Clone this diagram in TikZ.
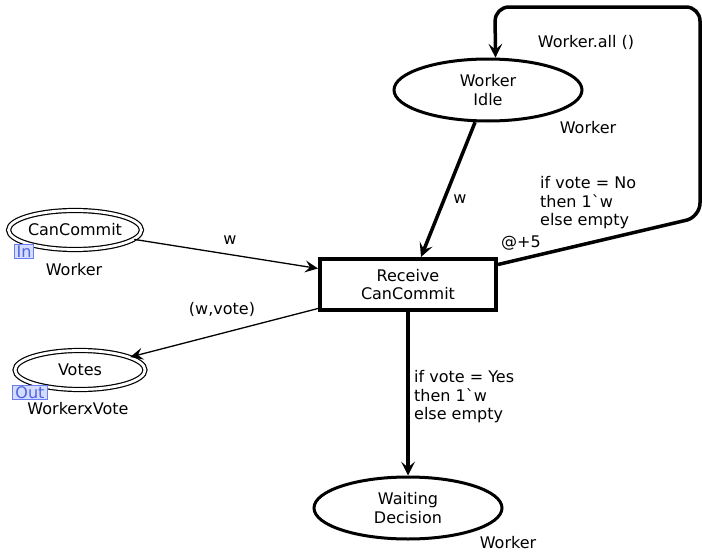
\documentclass[tikz,border=0pt]{standalone}
\usepackage{fontspec}
\newfontfamily\cpnfont{DejaVu Sans}
\usetikzlibrary{shapes.geometric,arrows.meta,calc}
\definecolor{portfill}{HTML}{D4DCFF}
\definecolor{portline}{HTML}{6A7DF0}
\definecolor{porttext}{HTML}{4F63E0}

\begin{document}
\begin{tikzpicture}[x=1pt,y=-1pt,
  every node/.style={font=\cpnfont\fontsize{16}{18.5}\selectfont, inner sep=0pt},
  place/.style={ellipse, draw, line width=3pt, align=center,
    minimum width=188pt, minimum height=62pt},
  portplace/.style={ellipse, draw, line width=1.2pt, double, double distance=2.8pt,
    align=center, minimum width=130pt, minimum height=39pt},
  transition/.style={rectangle, draw, line width=4pt, align=center,
    minimum width=176pt, minimum height=51pt},
  porttag/.style={draw=portline, fill=portfill, text=porttext, line width=1pt,
    inner xsep=2.5pt, inner ysep=1pt},
  thickarc/.style={line width=3.5pt,
    -{Stealth[length=14pt,width=14pt,inset=6pt,line width=0pt]}},
  thinarc/.style={line width=1.3pt,
    -{Stealth[length=13pt,width=12pt,inset=5pt,line width=0pt]}},
  inscr/.style={align=left, anchor=north west}
]
\useasboundingbox (0,0) rectangle (702,554);

% places and transition
\node[place] (idle) at (488,90) {Worker\\Idle};
\node[transition] (trans) at (408,284.5) {Receive\\CanCommit};
\node[place] (wait) at (408,508) {Waiting\\Decision};
\node[portplace] (cc) at (75,230) {CanCommit};
\node[portplace] (votes) at (80,370) {Votes};

% port tags
\node[porttag] (intag) at (24,251.5) {In};
\node[porttag] (outtag) at (30,392.5) {Out};

% colour sets
\node (idletype) at (588,128) {Worker};
\node (cctype) at (74,270) {Worker};
\node (votestype) at (78,409) {WorkerxVote};
\node (waittype) at (508,543) {Worker};

% initial marking
\node (init) at (586,42) {Worker.all ()};

% arcs
\draw[thickarc] (idle) -- ([xshift=13pt]trans.north);
\draw[thickarc, rounded corners=14pt] ([yshift=20pt]trans.east)
  -- (700,217) -- (700,7) -- (495,7) -- (idle.77);
\draw[thickarc] (trans.south) -- (wait.north);
\draw[thinarc] (cc) -- ([yshift=16pt]trans.west);
\draw[thinarc] ([yshift=-24pt]trans.west) -- (votes);

% arc inscriptions
\node (wlbl) at (460,199) {w};
\node[inscr] (nolbl) at (540,176.5) {if vote = No\\then 1`w\\else empty};
\node (delay) at (521,243) {@+5};
\node (wcc) at (230,240) {w};
\node (wvote) at (222,309) {(w,vote)};
\node[inscr] (yeslbl) at (414,370.5) {if vote = Yes\\then 1`w\\else empty};
\end{tikzpicture}
\end{document}
